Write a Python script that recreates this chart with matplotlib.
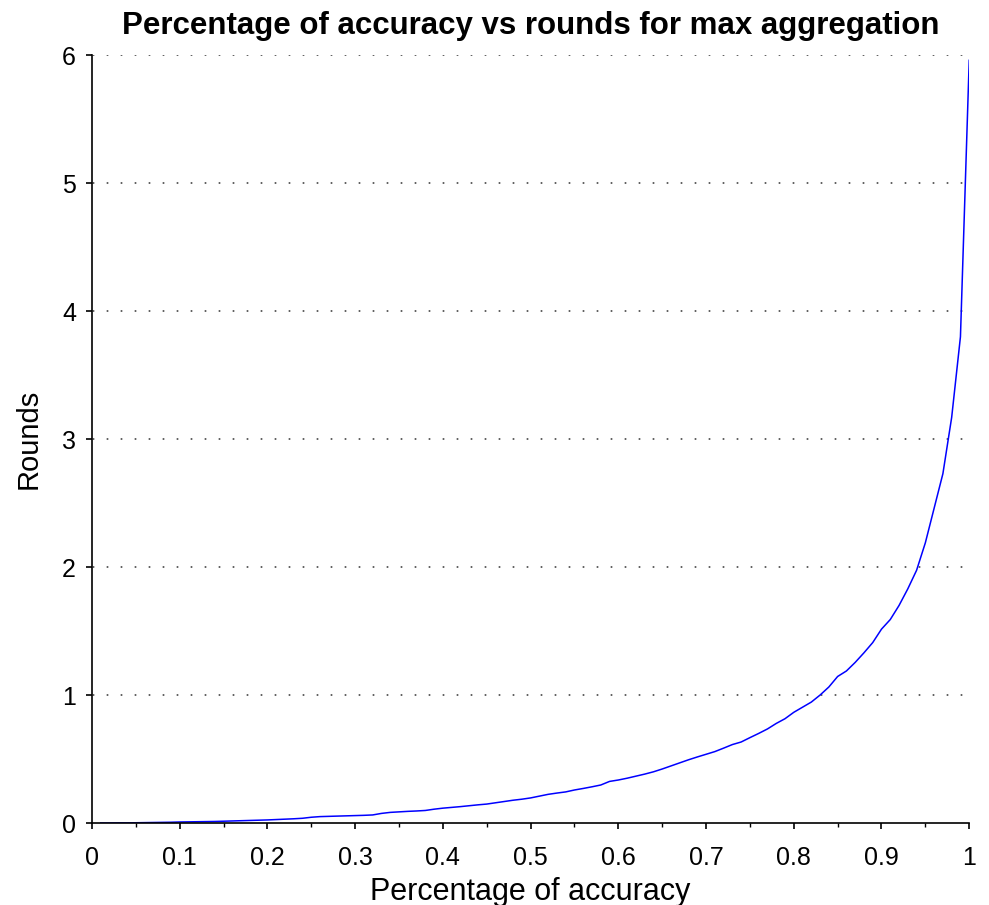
import matplotlib
matplotlib.use('Agg')
import matplotlib.pyplot as plt
from matplotlib.ticker import MultipleLocator, FuncFormatter

# Données (pas de 0.01)
accuracy = [i / 100 for i in range(1, 101)]
rounds = [
    0.000, 0.000, 0.001, 0.001, 0.002, 0.003, 0.004, 0.005, 0.006, 0.008,
    0.009, 0.010, 0.011, 0.012, 0.014, 0.016, 0.018, 0.020, 0.022, 0.024,
    0.027, 0.030, 0.033, 0.037, 0.045, 0.050, 0.052, 0.054, 0.056, 0.058,
    0.060, 0.063, 0.075, 0.083, 0.087, 0.091, 0.094, 0.098, 0.108, 0.116,
    0.122, 0.128, 0.135, 0.142, 0.148, 0.158, 0.168, 0.178, 0.186, 0.196,
    0.210, 0.224, 0.234, 0.243, 0.258, 0.270, 0.283, 0.297, 0.325, 0.336,
    0.350, 0.366, 0.382, 0.400, 0.422, 0.446, 0.470, 0.494, 0.516, 0.537,
    0.558, 0.585, 0.613, 0.633, 0.667, 0.700, 0.735, 0.778, 0.815, 0.865,
    0.905, 0.945, 1.000, 1.063, 1.145, 1.188, 1.255, 1.330, 1.410, 1.515,
    1.590, 1.700, 1.830, 1.975, 2.190, 2.460, 2.730, 3.170, 3.800, 5.960,
]
grid_levels = [1, 2, 3, 4, 5, 6]

plt.rcParams['font.family'] = ['Liberation Sans', 'DejaVu Sans']

fig = plt.figure(figsize=(9.89, 9.05), dpi=100)
ax = fig.add_axes([0.093, 0.0906, 0.887, 0.8484])

ax.plot(accuracy, rounds, color='blue', linewidth=1.1)

ax.set_xlim(0, 1)
ax.set_ylim(0, 6)

# Grille horizontale pointillée
for y in grid_levels:
    ax.axhline(y, color='#444444', linewidth=1.2, linestyle=(8, (1, 7.4)), zorder=0)

ax.xaxis.set_major_locator(MultipleLocator(0.1))
ax.xaxis.set_minor_locator(MultipleLocator(0.05))
ax.xaxis.set_major_formatter(FuncFormatter(lambda v, p: f'{v:g}'))
ax.yaxis.set_major_locator(MultipleLocator(1))

for side in ('top', 'right'):
    ax.spines[side].set_visible(False)
for side in ('left', 'bottom'):
    ax.spines[side].set_linewidth(1.2)

ax.tick_params(axis='both', which='major', direction='out', length=4.5, width=1.2,
               labelsize=18)
ax.tick_params(axis='x', which='major', pad=12)
ax.tick_params(axis='y', which='major', pad=7)
ax.tick_params(axis='x', which='minor', direction='out', length=3, width=1.0)

ax.set_xlabel('Percentage of accuracy', fontsize=22, labelpad=5)
ax.set_ylabel('Rounds', fontsize=21, labelpad=14)
ax.set_title('Percentage of accuracy vs rounds for max aggregation',
             fontsize=22.5, fontweight='bold', pad=15)

plt.savefig('out.png', dpi=100)
plt.close()
